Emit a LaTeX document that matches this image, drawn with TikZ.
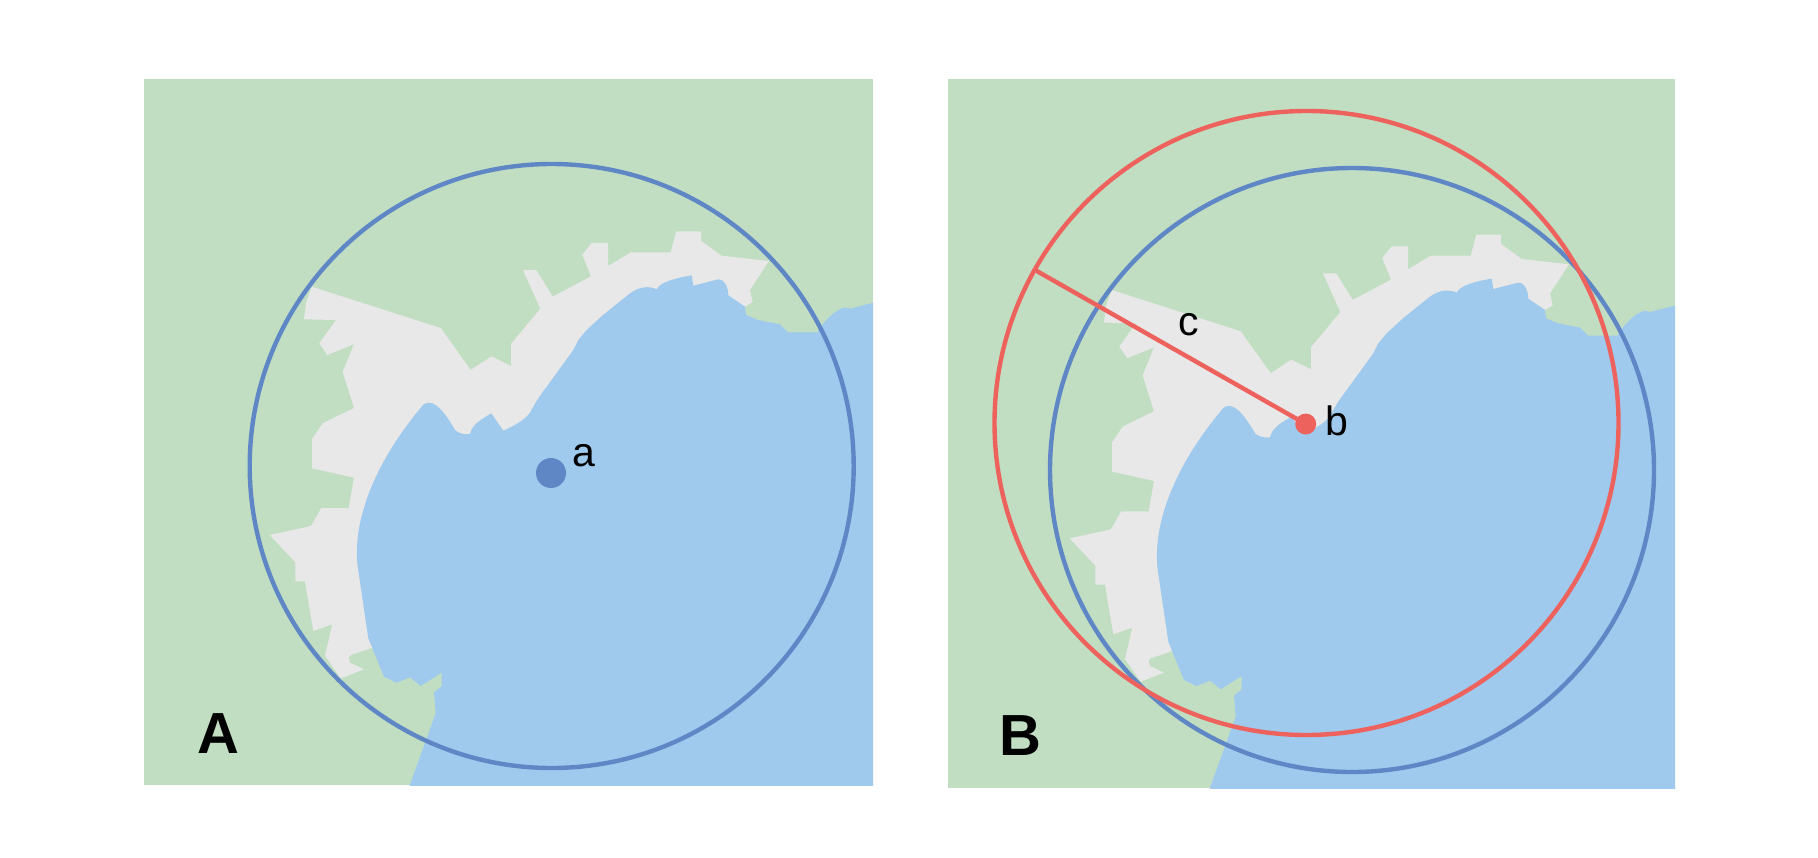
\documentclass[tikz,border=0pt]{standalone}
\usepackage{fontspec}
\setmainfont{Liberation Sans}
\definecolor{landgreen}{HTML}{C1DEC2}
\definecolor{urbangray}{HTML}{E8E8E8}
\definecolor{seablue}{HTML}{9FCAEE}
\definecolor{ringblue}{HTML}{5F87C6}
\definecolor{ringred}{HTML}{EE625E}
\tikzset{
	ring/.style={line width=2.2pt},
	spot/.style={circle,inner sep=0pt},
	pointlabel/.style={inner sep=0pt,font=\fontsize{20.5}{20.5}\selectfont},
	panellabel/.style={font=\fontsize{29}{29}\selectfont\bfseries}
}
% coast shapes, in pixels of panel A
\newcommand{\coastmap}{
\fill[urbangray] (311.7,286.7) -- (306,303) -- (304,319.3) -- (336,320) -- (319.3,343.3) -- (327.3,355) -- (354,344)
	-- (342.7,372) -- (354,408) -- (322.7,423.3) -- (312,439.3) -- (312,468.3) -- (354,477.7) -- (348.7,508)
	-- (321.3,508) -- (311,526) -- (269.7,535) -- (295.3,562.3) -- (295.3,581.3) -- (305,581.3) -- (313.3,631)
	-- (332.3,624.3) -- (325,655.7) -- (340.7,678.3) -- (364,669.3) -- (350,662.7) -- (348.7,657.3) -- (350.7,655)
	-- (372.3,647.7) -- (420,500) -- (600,400) -- (745,306.7) -- (752.7,302) -- (750,290) -- (769,261)
	-- (721.7,255.7) -- (701,240.7) -- (701,231.3) -- (676.3,231.3) -- (670.7,252.3) -- (631,252.3) -- (608,266)
	-- (608,243) -- (591.7,243) -- (582.3,254.7) -- (591,276.3) -- (552.7,296.7) -- (536.3,270) -- (523,270)
	-- (540.3,308.7) -- (511,344) -- (511,366) -- (491.3,356.3) -- (470.7,370) -- (440.7,328) -- cycle;
\fill[seablue] (880,301) -- (850,308.7) -- (846.7,307.7) .. controls (844,307.5) and (842,308) .. (840,309.3)
	.. controls (835,311) and (828,318) .. (822,325) -- (817.3,332.3) -- (788,332.3) -- (780,324.3) -- (758,320)
	-- (746,315) -- (745,306.7) -- (728.3,295.3)
	.. controls (728,288) and (726,280) .. (718.3,279.3) -- (693.3,285.7) -- (691.7,275.3)
	.. controls (676,278) and (660,282) .. (656.7,289.3) .. controls (650,286) and (640,286) .. (630,293.3)
	-- (603,315) -- (586.7,330) -- (578.3,340) -- (573.3,350) -- (546.7,386.7)
	.. controls (540,395) and (534,405) .. (530,412.7) .. controls (525,420) and (512,427) .. (503.3,430.7)
	-- (491.3,413.3) .. controls (480,420) and (472,425) .. (470,434) .. controls (464,435) and (458,433) .. (455,430)
	.. controls (448,418) and (438,402) .. (428.3,402.7) .. controls (424,403) and (422,406) .. (421.7,406.7)
	.. controls (385,450) and (352,510) .. (357.5,565) -- (368.3,638.3) -- (384,676.7) -- (396.7,682.7) -- (410,677.3)
	-- (420.7,686) -- (441.7,672.7) -- (441.7,686) -- (434,692.3) -- (435.7,713.3) -- (408,790) -- (880,790) -- cycle;
}
\begin{document}
\begin{tikzpicture}[x=0.5pt,y=-0.5pt]
\useasboundingbox (0,0) rectangle (1818,857);
\fill[white] (0,0) rectangle (1818,857);
% panel A
\begin{scope}
	\clip (144,79) rectangle (873,785);
	\fill[landgreen] (144,79) rectangle (873,785);
	\coastmap
\end{scope}
\draw[ring,ringblue] (551.7,466) circle [radius=302];
\node[spot,fill=ringblue,minimum size=15pt] (dota) at (551,473) {};
\node[pointlabel] (labela) at (584,456) {a};
\node[panellabel] (labelA) at (218,734) {A};
% panel B
\begin{scope}
	\clip (948,79) rectangle (1675,788);
	\fill[landgreen] (948,79) rectangle (1675,788);
	\begin{scope}[xshift=400pt,yshift=-1.65pt]
		\coastmap
	\end{scope}
\end{scope}
\draw[ring,ringblue] (1352,470) circle [radius=302];
\draw[ring,ringred] (1306.5,423) circle [radius=312];
\node[spot,fill=ringred,minimum size=10.5pt] (dotb) at (1305.7,424) {};
\coordinate (rimc) at (1035,270);
\draw[ring,ringred] (dotb.center) -- (rimc);
\node[pointlabel] (labelc) at (1189,325) {c};
\node[pointlabel] (labelb) at (1337,421) {b};
\node[panellabel] (labelB) at (1020,736) {B};
\end{tikzpicture}
\end{document}
